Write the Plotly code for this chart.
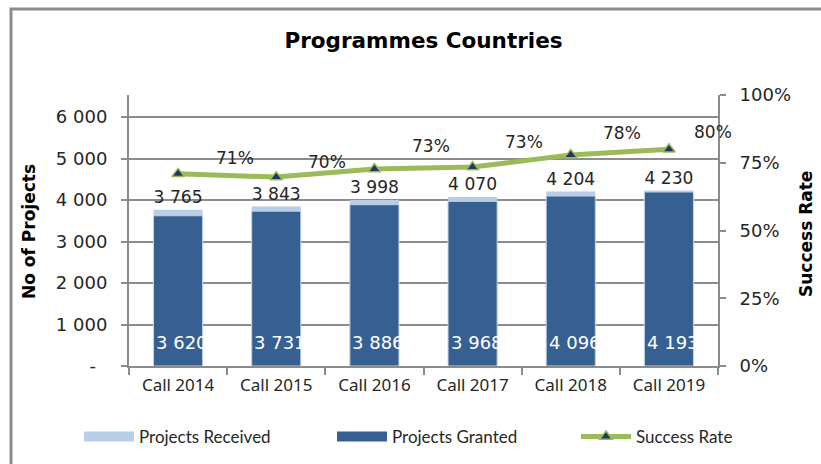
import plotly.graph_objects as go

categories = ["Call 2014", "Call 2015", "Call 2016", "Call 2017", "Call 2018", "Call 2019"]
projects_received = [3765, 3843, 3998, 4070, 4204, 4230]
projects_granted = [3620, 3731, 3886, 3968, 4096, 4193]
success_rate = [0.709, 0.697, 0.727, 0.734, 0.779, 0.800]
left_tick_vals = [0, 1000, 2000, 3000, 4000, 5000, 6000]
left_tick_text = ["-\u00a0\u00a0", "1 000", "2 000", "3 000", "4 000", "5 000", "6 000"]
right_tick_vals = [0, 0.25, 0.5, 0.75, 1.0]
right_tick_text = ["0%", "25%", "50%", "75%", "100%"]
# pixel offsets of the percentage labels from their points (label placement style)
rate_label_dx = [57, 51, 57, 51, 51, 44]
rate_label_dy = [16, 15, 23, 25, 22, 17]


def fmt(v):
    return f"{v:,}".replace(",", " ")


NUM_FONT = "DejaVu Sans"
GRID = "#8c8c8c"
LIGHT = "#b9cde5"
DARK = "#376092"
GREEN = "#9bbb59"
NAVY = "#1f3864"
TXT = "#262626"

fig = go.Figure()
fig.add_trace(go.Bar(
    x=categories, y=projects_received, name="Projects Received",
    legendgroup="received", showlegend=False,
    marker=dict(color=LIGHT, line=dict(width=0)), width=0.5,
    text=[fmt(v) for v in projects_received], textposition="outside",
    textfont=dict(family=NUM_FONT, size=18, color=TXT),
    cliponaxis=False,
))
fig.add_trace(go.Bar(
    x=categories, y=projects_granted, name="Projects Granted",
    legendgroup="granted", showlegend=False,
    marker=dict(color=DARK, line=dict(color="#c5d3e6", width=1)), width=0.5,
))
fig.add_trace(go.Scatter(
    x=categories, y=success_rate, name="Success Rate", yaxis="y2",
    mode="lines+markers", legend="legend3",
    line=dict(color=GREEN, width=5),
    marker=dict(symbol="triangle-up", size=11, color=NAVY, line=dict(color=GREEN, width=1.5)),
    cliponaxis=False,
))
# legend swatches (wide rectangles as in the reference), grouped with the bars
fig.add_trace(go.Scatter(
    x=[None], y=[None], mode="lines", name="Projects Received",
    legendgroup="received", legend="legend", line=dict(color=LIGHT, width=10),
    hoverinfo="skip",
))
fig.add_trace(go.Scatter(
    x=[None], y=[None], mode="lines", name="Projects Granted",
    legendgroup="granted", legend="legend2", line=dict(color=DARK, width=10),
    hoverinfo="skip",
))

annotations = []
for c, g in zip(categories, projects_granted):
    annotations.append(dict(
        x=c, y=0, xref="x", yref="y", text=fmt(g), showarrow=False,
        xanchor="left", yanchor="bottom", xshift=-24, yshift=11,
        font=dict(family=NUM_FONT, size=18, color="white"),
    ))
for c, r, dx, dy in zip(categories, success_rate, rate_label_dx, rate_label_dy):
    annotations.append(dict(
        x=c, y=r, xref="x", yref="y2", text=f"{round(r*100)}%", showarrow=False,
        xanchor="center", yanchor="middle", xshift=dx, yshift=dy,
        font=dict(family=NUM_FONT, size=17, color=TXT),
    ))
annotations.append(dict(
    x=(29 - 129) / 589, y=(366 - 232) / 271, xref="paper", yref="paper",
    text="<b>No of Projects</b>",
    textangle=-90, showarrow=False, xanchor="center", yanchor="middle",
    font=dict(family=NUM_FONT, size=17, color="black"),
))
annotations.append(dict(
    x=(806 - 129) / 589, y=(366 - 234) / 271, xref="paper", yref="paper",
    text="<b>Success Rate</b>",
    textangle=-90, showarrow=False, xanchor="center", yanchor="middle",
    font=dict(family=NUM_FONT, size=17, color="black"),
))

legend_common = dict(
    orientation="h", xanchor="left", y=(366 - 437) / 271, yanchor="middle",
    itemwidth=50, font=dict(family="Lato", size=17, color=TXT),
    bgcolor="rgba(0,0,0,0)",
)

fig.update_layout(
    width=821, height=464,
    margin=dict(l=129, r=103, t=95, b=98, autoexpand=False),
    paper_bgcolor="white", plot_bgcolor="white",
    barmode="overlay",
    title=dict(text="<b>Programmes Countries</b>", xref="paper", x=0.5, xanchor="center",
               y=1 - 40 / 464, yanchor="middle",
               font=dict(family=NUM_FONT, size=21.5, color="black")),
    xaxis=dict(
        range=[-0.5, len(categories) - 0.5], autorange=False,
        showline=True, linecolor=GRID, linewidth=2,
        ticks="outside", tickson="boundaries", ticklen=7, tickcolor=GRID, tickwidth=2,
        tickfont=dict(family="Noto Sans", size=17, color=TXT),
        ticklabelstandoff=3, showgrid=False,
    ),
    yaxis=dict(
        range=[0, 6530], tickvals=left_tick_vals, ticktext=left_tick_text,
        showline=True, linecolor=GRID, linewidth=2,
        ticks="outside", ticklen=6, tickcolor=GRID, tickwidth=2,
        showgrid=True, gridcolor=GRID, gridwidth=1.5, zeroline=False,
        tickfont=dict(family=NUM_FONT, size=18, color=TXT),
        ticklabelstandoff=10,
    ),
    yaxis2=dict(
        overlaying="y", side="right", range=[0, 1],
        tickvals=right_tick_vals, ticktext=right_tick_text,
        showline=True, linecolor=GRID, linewidth=2,
        ticks="outside", ticklen=6, tickcolor=GRID, tickwidth=2,
        showgrid=False, zeroline=False,
        tickfont=dict(family=NUM_FONT, size=18, color=TXT),
        ticklabelstandoff=10,
    ),
    legend=dict(x=(79 - 129) / 589, **legend_common),
    legend2=dict(x=(332 - 129) / 589, **legend_common),
    legend3=dict(x=(576 - 129) / 589, **legend_common),
    annotations=annotations,
    shapes=[dict(
        type="rect", xref="paper", yref="paper",
        x0=(11 - 129) / 589, x1=1.6, y0=-0.6, y1=(366 - 9) / 271,
        line=dict(color="#8c8c8c", width=3), fillcolor="rgba(0,0,0,0)", layer="below",
    )],
    showlegend=True,
)

fig.write_html("out.html", config={"displayModeBar": False},
               post_script="document.body.style.margin='0';")
